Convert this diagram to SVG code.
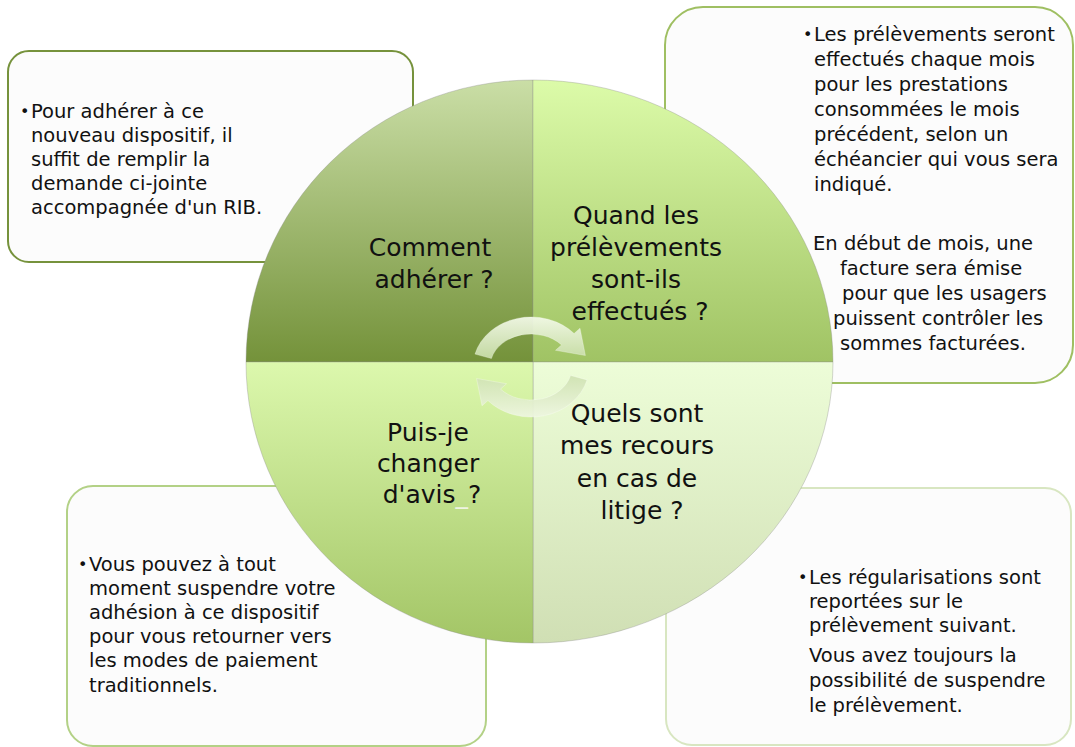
<svg xmlns="http://www.w3.org/2000/svg" width="1075" height="747" viewBox="0 0 1075 747">
  <style>
    .box { fill: #fcfcfc; stroke-width: 2; }
    .body { font-family: "DejaVu Sans", Verdana, sans-serif; font-size: 19.5px; fill: #111; }
    .bullet { font-family: "DejaVu Sans", Verdana, sans-serif; font-size: 16px; fill: #111; }
    .quad { font-family: "DejaVu Sans", Verdana, sans-serif; font-size: 25px; fill: #111; text-anchor: middle; }
    .seg { stroke: #8a8a8a; stroke-opacity: 0.35; stroke-width: 1; }
    .arrow { stroke: #ffffff; stroke-opacity: 0.35; stroke-width: 0.8; }
  </style>
  <defs>
    <linearGradient id="gTL" gradientUnits="userSpaceOnUse" x1="0" y1="80" x2="0" y2="362">
      <stop offset="0" stop-color="#cadea6"/>
      <stop offset="1" stop-color="#74923a"/>
    </linearGradient>
    <linearGradient id="gTR" gradientUnits="userSpaceOnUse" x1="0" y1="80" x2="0" y2="362">
      <stop offset="0" stop-color="#dcfba9"/>
      <stop offset="1" stop-color="#a0c364"/>
    </linearGradient>
    <linearGradient id="gBL" gradientUnits="userSpaceOnUse" x1="0" y1="362" x2="0" y2="643">
      <stop offset="0" stop-color="#dcf8ad"/>
      <stop offset="1" stop-color="#a3c566"/>
    </linearGradient>
    <linearGradient id="gBR" gradientUnits="userSpaceOnUse" x1="0" y1="362" x2="0" y2="643">
      <stop offset="0" stop-color="#edfdd8"/>
      <stop offset="1" stop-color="#d0dfb4"/>
    </linearGradient>
    <linearGradient id="gArrowTop" x1="0" y1="0" x2="0" y2="1">
      <stop offset="0" stop-color="#f4faea"/>
      <stop offset="1" stop-color="#c9dea9"/>
    </linearGradient>
    <linearGradient id="gArrowBottom" x1="0" y1="1" x2="0" y2="0">
      <stop offset="0" stop-color="#eef6e0"/>
      <stop offset="1" stop-color="#cfe2b2"/>
    </linearGradient>
  </defs>

  <rect width="1075" height="747" fill="#ffffff"/>

  <!-- answer boxes -->
  <g id="box-adherer">
    <rect class="box" x="8" y="51" width="405" height="211" rx="21" stroke="#76923c"/>
    <text class="bullet" x="20" y="117">•</text>
    <text class="body">
      <tspan x="31" y="118">Pour adhérer à ce</tspan>
      <tspan x="31" y="142">nouveau dispositif, il</tspan>
      <tspan x="31" y="166">suffit de remplir la</tspan>
      <tspan x="31" y="190">demande ci-jointe</tspan>
      <tspan x="31" y="214">accompagnée d'un RIB.</tspan>
    </text>
  </g>

  <g id="box-prelevements">
    <rect class="box" x="665" y="7" width="408" height="376" rx="38" stroke="#9fbf62"/>
    <text class="bullet" x="803" y="40">•</text>
    <text class="body">
      <tspan x="814" y="41">Les prélèvements seront</tspan>
      <tspan x="814" y="66">effectués chaque mois</tspan>
      <tspan x="814" y="91">pour les prestations</tspan>
      <tspan x="814" y="116">consommées le mois</tspan>
      <tspan x="814" y="141">précédent, selon un</tspan>
      <tspan x="814" y="166">échéancier qui vous sera</tspan>
      <tspan x="814" y="191">indiqué.</tspan>
      <tspan x="813" y="250">En début de mois, une</tspan>
      <tspan x="840" y="275">facture sera émise</tspan>
      <tspan x="842" y="300">pour que les usagers</tspan>
      <tspan x="833" y="325">puissent contrôler les</tspan>
      <tspan x="840" y="350">sommes facturées.</tspan>
    </text>
  </g>

  <g id="box-avis">
    <rect class="box" x="67" y="486" width="419" height="260" rx="26" stroke="#b3d186"/>
    <text class="bullet" x="78" y="570">•</text>
    <text class="body">
      <tspan x="89" y="571">Vous pouvez à tout</tspan>
      <tspan x="89" y="595">moment suspendre votre</tspan>
      <tspan x="89" y="619">adhésion à ce dispositif</tspan>
      <tspan x="89" y="643">pour vous retourner vers</tspan>
      <tspan x="89" y="667">les modes de paiement</tspan>
      <tspan x="89" y="692">traditionnels.</tspan>
    </text>
  </g>

  <g id="box-recours">
    <rect class="box" x="666" y="488" width="405" height="257" rx="26" stroke="#d8e6c1"/>
    <text class="bullet" x="798" y="583">•</text>
    <text class="body">
      <tspan x="809" y="584">Les régularisations sont</tspan>
      <tspan x="809" y="608">reportées sur le</tspan>
      <tspan x="809" y="632">prélèvement suivant.</tspan>
      <tspan x="809" y="662">Vous avez toujours la</tspan>
      <tspan x="809" y="687">possibilité de suspendre</tspan>
      <tspan x="809" y="712">le prélèvement.</tspan>
    </text>
  </g>

  <!-- central matrix: four quarter discs -->
  <g id="quad-comment">
    <path class="seg" d="M533,362 L246,362 A287,282 0 0 1 533,80 Z" fill="url(#gTL)"/>
    <text class="quad">
      <tspan x="434" y="256">Comment</tspan>
      <tspan x="434" y="288">adhérer ?</tspan>
    </text>
  </g>
  <g id="quad-quand">
    <path class="seg" d="M533,362 L533,80 A300,282 0 0 1 833,362 Z" fill="url(#gTR)"/>
    <text class="quad">
      <tspan x="640" y="224">Quand les</tspan>
      <tspan x="640" y="256">prélèvements</tspan>
      <tspan x="640" y="288">sont-ils</tspan>
      <tspan x="640" y="320">effectués ?</tspan>
    </text>
  </g>
  <g id="quad-recours">
    <path class="seg" d="M533,362 L833,362 A300,281 0 0 1 533,643 Z" fill="url(#gBR)"/>
    <text class="quad">
      <tspan x="641" y="422">Quels sont</tspan>
      <tspan x="641" y="454">mes recours</tspan>
      <tspan x="641" y="487">en cas de</tspan>
      <tspan x="642" y="519">litige ?</tspan>
    </text>
  </g>
  <g id="quad-avis">
    <path class="seg" d="M533,362 L533,643 A287,281 0 0 1 246,362 Z" fill="url(#gBL)"/>
    <text class="quad">
      <tspan x="432" y="441">Puis-je</tspan>
      <tspan x="432" y="472">changer</tspan>
      <tspan x="432" y="503">d'avis<tspan fill="#eef4e2">_</tspan>?</tspan>
    </text>
  </g>

  <!-- cycle arrows -->
  <g id="connectors">
    <path class="arrow" fill="url(#gArrowTop)" fill-opacity="0.93"
          d="M475.0,354.1 A58,50 0 0 1 574.1,333.5 L580.0,328.2 L585.4,355.5 L555.5,350.3 L561.5,344.9 A41,33 0 0 0 491.4,358.5 Z"/>
    <path class="arrow" fill="url(#gArrowBottom)" fill-opacity="0.93"
          d="M587.0,379.9 A58,50 0 0 1 487.9,400.5 L482.0,405.8 L476.6,378.5 L506.5,383.7 L500.5,389.1 A41,33 0 0 0 570.6,375.5 Z"/>
  </g>
</svg>
